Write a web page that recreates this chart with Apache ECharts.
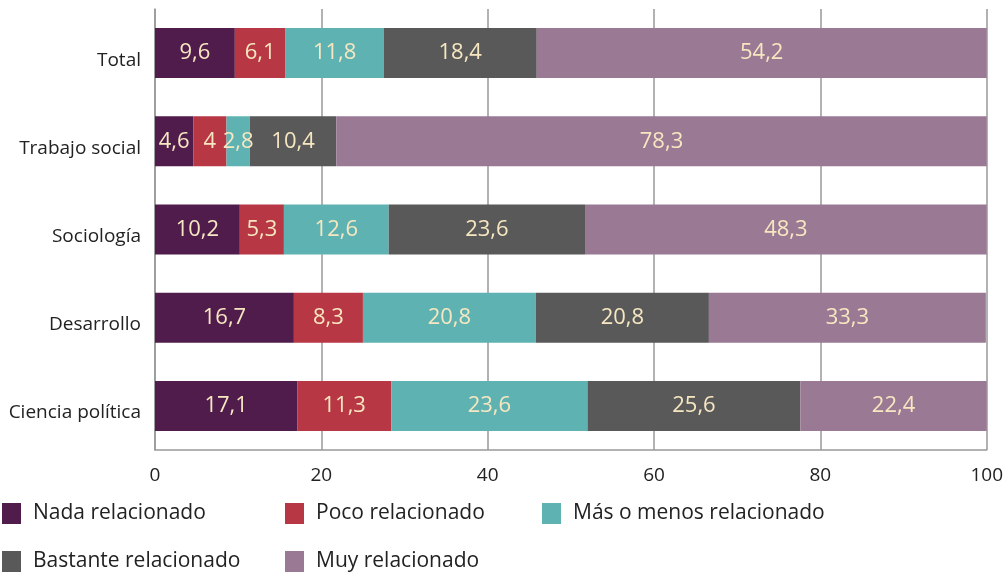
<!DOCTYPE html>
<html><head><meta charset="utf-8">
<script src="https://cdn.jsdelivr.net/npm/echarts@6/dist/echarts.min.js"></script>
<style>html,body{margin:0;padding:0;background:#fff}#c{width:1006px;height:576px}</style>
</head><body><div id="c"></div>
<script>
const categories = ['Total', 'Trabajo social', 'Sociología', 'Desarrollo', 'Ciencia política'];
const seriesNames = ['Nada relacionado', 'Poco relacionado', 'Más o menos relacionado', 'Bastante relacionado', 'Muy relacionado'];
const nada = [9.6, 4.6, 10.2, 16.7, 17.1];
const poco = [6.1, 4, 5.3, 8.3, 11.3];
const masOMenos = [11.8, 2.8, 12.6, 20.8, 23.6];
const bastante = [18.4, 10.4, 23.6, 20.8, 25.6];
const muy = [54.2, 78.3, 48.3, 33.3, 22.4];
const xTicks = [0, 20, 40, 60, 80, 100];

const colors = ['#4F1C4C', '#B83744', '#5EB3B2', '#595959', '#9A7994'];
const values = [nada, poco, masOMenos, bastante, muy];
const FONT = '"Open Sans", "Noto Sans", sans-serif';

const chart = echarts.init(document.getElementById('c'));
const legendPos = [[2, 503], [285, 503], [542, 503], [2, 551], [285, 551]];
chart.setOption({
  animation: false,
  grid: {left: 155, right: 18, top: 9, bottom: 126, containLabel: false},
  legend: seriesNames.map((n, i) => ({
    data: [n], left: legendPos[i][0], top: legendPos[i][1], padding: 0,
    itemWidth: 19, itemHeight: 21, itemGap: 0, icon: 'rect',
    textStyle: {fontFamily: FONT, fontSize: 21, color: '#222', padding: [0, 0, 0, 7]}
  })),
  xAxis: {
    type: 'value', min: 0, max: 100, interval: 20,
    axisLine: {show: true, lineStyle: {color: '#999', width: 1.5}},
    axisTick: {show: false},
    splitLine: {show: true, lineStyle: {color: '#999', width: 1.5}},
    axisLabel: {fontFamily: FONT, fontSize: 19, color: '#222', margin: 16,
      formatter: v => xTicks.includes(v) ? String(v) : ''}
  },
  yAxis: {
    type: 'category', data: categories, inverse: true,
    axisLine: {show: true, lineStyle: {color: '#999', width: 1.5}},
    axisTick: {show: false},
    axisLabel: {margin: 14, formatter: v => '{a|' + v + '}',
      rich: {a: {fontFamily: FONT, fontSize: 19, color: '#222', padding: [14, 0, 0, 0]}}}
  },
  series: seriesNames.map((n, i) => ({
    name: n, type: 'bar', stack: 'a', data: values[i], barWidth: 50,
    itemStyle: {color: colors[i]},
    label: {show: true, position: 'inside', color: '#F6E7C1', fontFamily: FONT, fontSize: 22,
      formatter: p => String(p.value).replace('.', ',')}
  }))
});
</script></body></html>
